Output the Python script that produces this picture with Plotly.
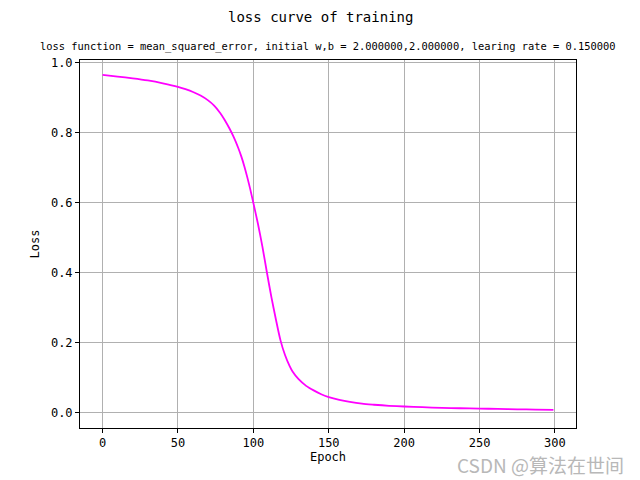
import plotly.graph_objects as go

epochs = [0, 10, 20, 30, 40, 50, 55, 60, 65, 70, 74, 78, 81, 84, 87, 90, 92, 94, 96, 98,
          100, 103, 106, 109, 112, 115, 118, 121, 124, 126, 130, 135, 140, 145, 150, 157,
          164, 172, 180, 190, 200, 212, 225, 237, 250, 262, 275, 287, 299]
loss = [0.966, 0.961, 0.956, 0.950, 0.942, 0.932, 0.925, 0.917, 0.907, 0.893, 0.878, 0.857,
        0.837, 0.814, 0.788, 0.757, 0.733, 0.705, 0.673, 0.638, 0.600, 0.541, 0.475, 0.401,
        0.330, 0.266, 0.207, 0.165, 0.134, 0.118, 0.096, 0.077, 0.064, 0.053, 0.045, 0.037,
        0.031, 0.026, 0.023, 0.020, 0.018, 0.016, 0.014, 0.013, 0.012, 0.011, 0.010, 0.009,
        0.0085]

x_ticks = [0, 50, 100, 150, 200, 250, 300]
y_ticks = [0.0, 0.2, 0.4, 0.6, 0.8, 1.0]
y_tick_text = ["0.0", "0.2", "0.4", "0.6", "0.8", "1.0"]

suptitle = "loss curve of training"
subtitle = "loss function = mean_squared_error, initial w,b = 2.000000,2.000000, learing rate = 0.150000"
watermark = "CSDN @算法在世间"

mono = "DejaVu Sans Mono"

fig = go.Figure()
fig.add_trace(go.Scatter(x=epochs, y=loss, mode="lines",
                         line=dict(color="#ff00ff", width=1.8, shape="spline", smoothing=0.8),
                         showlegend=False, hoverinfo="skip"))

axis_common = dict(showline=True, linecolor="black", linewidth=1, mirror=True,
                   ticks="outside", ticklen=4, tickcolor="black",
                   showgrid=True, gridcolor="#b0b0b0", gridwidth=1, zeroline=False,
                   tickfont=dict(family=mono, size=12, color="black"))

fig.update_layout(
    width=640, height=480,
    margin=dict(l=80, r=64, t=60, b=52),
    paper_bgcolor="white", plot_bgcolor="white",
    xaxis=dict(range=[-14.95, 313.95], tickvals=x_ticks, **axis_common,
               title=dict(text="Epoch", font=dict(family=mono, size=12, color="black"), standoff=3)),
    yaxis=dict(range=[-0.0435, 1.0085], tickvals=y_ticks, ticktext=y_tick_text, **axis_common,
               title=dict(text="Loss", font=dict(family=mono, size=12, color="black"), standoff=8)),
    annotations=[
        dict(text=suptitle, xref="paper", yref="paper", x=(320 - 80) / (640 - 80 - 64), y=1,
             xanchor="center", yanchor="middle", yshift=43,
             showarrow=False, font=dict(family=mono, size=14, color="black")),
        dict(text=subtitle, xref="x domain", yref="y domain", x=0.5, y=1, xanchor="center", yanchor="bottom",
             showarrow=False, font=dict(family=mono, size=10.4, color="black"), yshift=5),
        dict(text=watermark, xref="paper", yref="paper", x=1, y=0, xanchor="right", yanchor="bottom",
             xshift=625 - 576, yshift=-51, borderpad=0,
             showarrow=False, font=dict(family="Noto Sans CJK SC", size=19, color="#b8b8b8")),
    ],
)

fig.write_html("out.html")
